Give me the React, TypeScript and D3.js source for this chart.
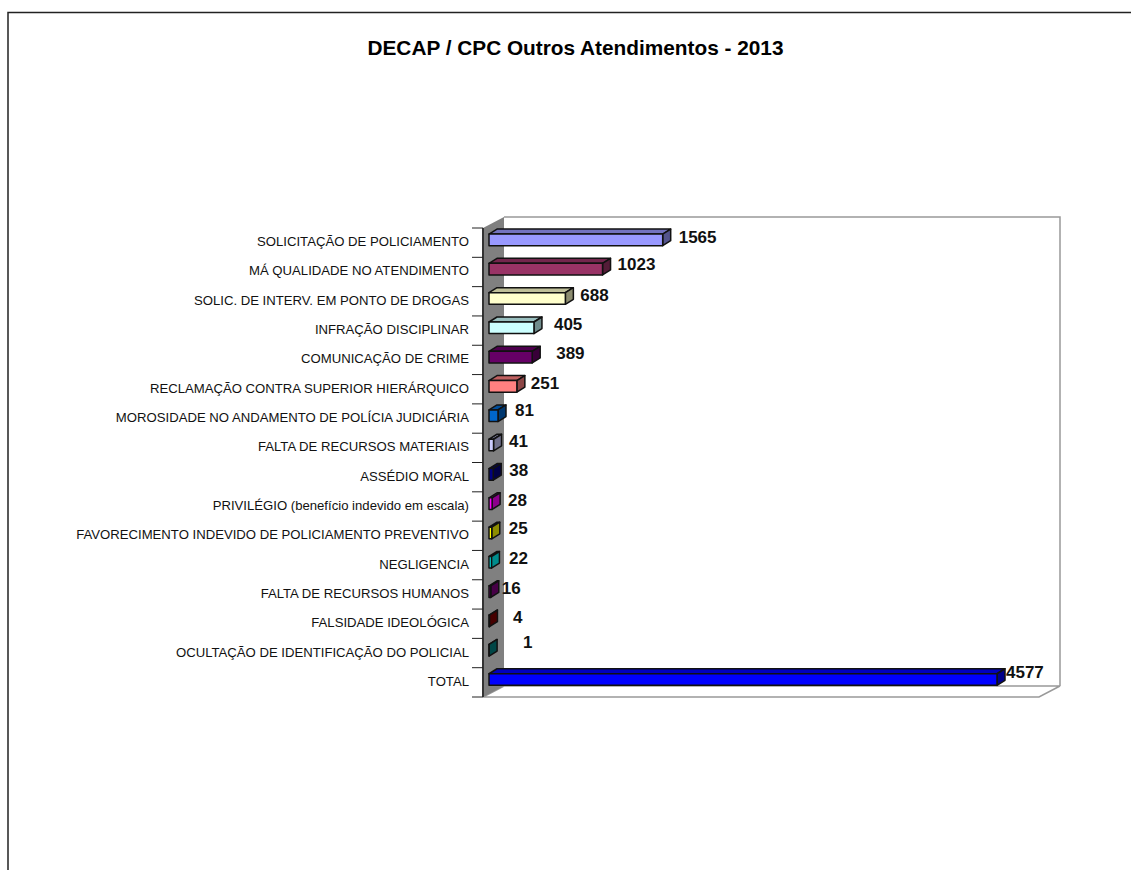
import React from "react";
import * as d3 from "d3";

const categories = [
  "SOLICITAÇÃO DE POLICIAMENTO",
  "MÁ QUALIDADE NO ATENDIMENTO",
  "SOLIC. DE INTERV. EM PONTO DE DROGAS",
  "INFRAÇÃO DISCIPLINAR",
  "COMUNICAÇÃO DE CRIME",
  "RECLAMAÇÃO CONTRA SUPERIOR HIERÁRQUICO",
  "MOROSIDADE NO ANDAMENTO DE POLÍCIA JUDICIÁRIA",
  "FALTA DE RECURSOS MATERIAIS",
  "ASSÉDIO MORAL",
  "PRIVILÉGIO (benefício indevido em escala)",
  "FAVORECIMENTO INDEVIDO DE POLICIAMENTO PREVENTIVO",
  "NEGLIGENCIA",
  "FALTA DE RECURSOS HUMANOS",
  "FALSIDADE IDEOLÓGICA",
  "OCULTAÇÃO DE IDENTIFICAÇÃO DO POLICIAL",
  "TOTAL",
];
const values = [1565, 1023, 688, 405, 389, 251, 81, 41, 38, 28, 25, 22, 16, 4, 1, 4577];
const colors = [
  "#9999FF", "#993366", "#FFFFCC", "#CCFFFF", "#660066", "#FF8080", "#0066CC", "#CCCCFF",
  "#000080", "#FF00FF", "#FFFF00", "#00FFFF", "#800080", "#800000", "#008080", "#0000FF",
];
// the source chart's value labels sit at uneven distances from the bars
const labelDx = [16, 15, 15, 20, 24, 14, 17, 15.5, 16, 16, 17, 17.5, 11, 23.5, 34, 9];
const labelDy = [-4, -6, -5, -5, -5.5, -5, -7, -5.5, -6, -5, -6.5, -6, -5, -5, -10, -9];

const title = "DECAP / CPC Outros Atendimentos - 2013";

const width = 1131;
const height = 870;
const depthX = 8;
const depthY = 5;
const barH = 11.6;
const wallX = 483;
const wallDx = 21;
const wallDy = 11;
const plotTop = 228;
const plotBottom = 697;
const plotRight = 1039;

const x = d3.scaleLinear().domain([0, 4577]).range([489, 997]);
const y = d3.scaleBand<string>().domain(categories).range([plotTop, plotBottom]);
// category label baselines
const yLabel = d3.scalePoint<string>().domain(categories).range([246, 686]);

const poly = (pts: number[][]) => pts.map((p) => p.join(",")).join(" ");
const shade = (c: string, k: number) => {
  const r = d3.rgb(c);
  return d3.rgb(r.r * k, r.g * k, r.b * k).formatHex();
};

export default function App() {
  const x0 = x(0);
  return (
    <svg
      width={width}
      height={height}
      style={{ position: "absolute", left: 0, top: 0, display: "block", background: "#fff" }}
      fontFamily="'Liberation Sans', Arial, sans-serif"
    >
      {/* outer frame, cut off by the page on the right and bottom */}
      <path d={`M8,${height} V12.5 H${width}`} fill="none" stroke="#222" strokeWidth={1.5} />
      <text x={575.5} y={55} textAnchor="middle" fontSize={20.8} fontWeight="bold" fill="#000">
        {title}
      </text>

      {/* back wall, side wall and floor */}
      <polyline
        points={poly([
          [wallX + wallDx, plotTop - wallDy],
          [plotRight + wallDx, plotTop - wallDy],
          [plotRight + wallDx, plotBottom - wallDy],
        ])}
        fill="#fff"
        stroke="#999"
        strokeWidth={1.5}
      />
      <polygon
        points={poly([
          [wallX, plotBottom],
          [wallX + wallDx, plotBottom - wallDy],
          [plotRight + wallDx, plotBottom - wallDy],
          [plotRight, plotBottom],
        ])}
        fill="#fff"
        stroke="#999"
        strokeWidth={1.5}
      />
      <polygon
        points={poly([
          [wallX, plotTop],
          [wallX + wallDx, plotTop - wallDy],
          [wallX + wallDx, plotBottom - wallDy],
          [wallX, plotBottom],
        ])}
        fill="#808080"
      />
      <line x1={wallX} x2={wallX} y1={plotTop} y2={plotBottom} stroke="#333" strokeWidth={2} />

      {/* category axis */}
      {[...categories.map((c) => y(c)!), plotBottom].map((t, i) => (
        <line key={i} x1={472} x2={wallX} y1={t} y2={t} stroke="#222" strokeWidth={1} />
      ))}
      {categories.map((c) => (
        <text key={c} x={469} y={yLabel(c)!} textAnchor="end" fontSize={13.15} fill="#111">
          {c}
        </text>
      ))}

      {/* 3d bars */}
      {categories.map((c, i) => {
        const xe = x(values[i]);
        const top = y(c)! + y.bandwidth() / 2 - barH / 2 - 2.8;
        const bottom = top + barH;
        return (
          <g key={c} stroke="#111" strokeWidth={1.5} strokeLinejoin="round">
            <polygon
              points={poly([
                [x0, top],
                [x0 + depthX, top - depthY],
                [xe + depthX, top - depthY],
                [xe, top],
              ])}
              fill={shade(colors[i], 0.75)}
            />
            <polygon
              points={poly([
                [xe, top],
                [xe + depthX, top - depthY],
                [xe + depthX, bottom - depthY],
                [xe, bottom],
              ])}
              fill={shade(colors[i], 0.55)}
            />
            <rect x={x0} y={top} width={xe - x0} height={barH} fill={colors[i]} />
          </g>
        );
      })}

      {/* value labels */}
      {categories.map((c, i) => (
        <text
          key={c}
          x={x(values[i]) + labelDx[i]}
          y={y(c)! + y.bandwidth() / 2 + labelDy[i]}
          dominantBaseline="middle"
          fontSize={17}
          fontWeight="bold"
          fill="#111"
        >
          {values[i]}
        </text>
      ))}
    </svg>
  );
}
